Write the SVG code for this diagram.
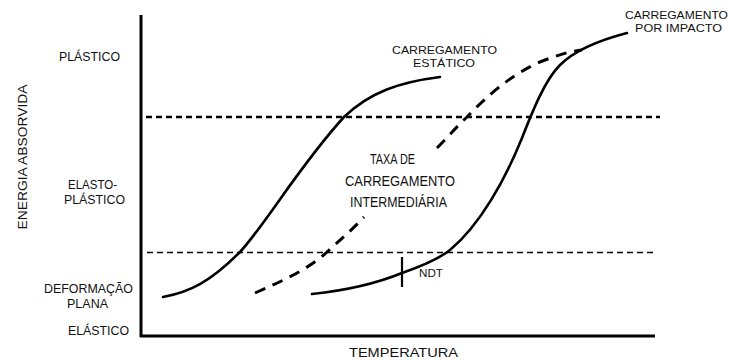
<svg xmlns="http://www.w3.org/2000/svg" width="730" height="362" viewBox="0 0 730 362">
<style>
text{font-family:"Liberation Sans",Arial,sans-serif;fill:#111;}
.lbl{font-size:13px;}
.sm{font-size:11px;}
.mid{font-size:14.5px;}
.axis{stroke:#000;stroke-width:3;fill:none;}
.solid{stroke:#000;stroke-width:2.6;fill:none;stroke-linecap:round;}
.dcurve{stroke:#000;stroke-width:3;fill:none;stroke-dasharray:11 8;}
.hi{stroke:#000;stroke-width:2.6;stroke-dasharray:6 4;}
.lo{stroke:#000;stroke-width:1.3;stroke-dasharray:6 4;}
</style>
<rect width="730" height="362" fill="#fff"/>
<g id="axes">
<line class="axis" x1="141" y1="15" x2="141" y2="337"/>
<line class="axis" x1="140" y1="336" x2="655" y2="336"/>
</g>
<g id="levels">
<line class="hi" x1="146" y1="117" x2="660" y2="117"/>
<line class="lo" x1="147" y1="252.5" x2="657" y2="252.5"/>
</g>
<g id="curves">
<path id="static" class="solid" d="M163,297 C190,292 210,282 240,252 C265,225 300,165 344,117 C370,92 400,82 440,77"/>
<path id="intermediate-low" class="dcurve" d="M255,293 C285,280 310,268 327,252 C340,240 352,230 364,217"/>
<path id="intermediate-high" class="dcurve" d="M437,148 C450,135 458,125 467,117 C485,98 510,75 540,62 C555,56 570,51 582,50"/>
<path id="impact" class="solid" d="M312,294 C350,290 380,282 402,273 C425,265 440,258 450,250 C480,225 505,180 522,138 C533,110 545,80 560,65 C575,50 600,40 627,33"/>
<line id="ndt-tick" x1="402" y1="257" x2="402" y2="287" stroke="#000" stroke-width="2.2"/>
</g>
<g id="y-labels">
<text class="lbl" x="59" y="61" textLength="61" lengthAdjust="spacingAndGlyphs">PLÁSTICO</text>
<text class="lbl" x="68" y="189" textLength="49" lengthAdjust="spacingAndGlyphs">ELASTO-</text>
<text class="lbl" x="64" y="204" textLength="61" lengthAdjust="spacingAndGlyphs">PLÁSTICO</text>
<text class="lbl" x="44" y="293" textLength="89" lengthAdjust="spacingAndGlyphs">DEFORMAÇÃO</text>
<text class="lbl" x="67" y="308" textLength="41" lengthAdjust="spacingAndGlyphs">PLANA</text>
<text class="lbl" x="68" y="335" textLength="61" lengthAdjust="spacingAndGlyphs">ELÁSTICO</text>
<text class="lbl" transform="translate(27,157) rotate(-90)" text-anchor="middle" textLength="145" lengthAdjust="spacingAndGlyphs">ENERGIA ABSORVIDA</text>
</g>
<g id="x-label">
<text class="lbl" x="349" y="357" textLength="109" lengthAdjust="spacingAndGlyphs">TEMPERATURA</text>
</g>
<g id="curve-labels">
<text class="sm" x="392" y="54" textLength="105" lengthAdjust="spacingAndGlyphs">CARREGAMENTO</text>
<text class="sm" x="413" y="67" textLength="62" lengthAdjust="spacingAndGlyphs">ESTÁTICO</text>
<text class="sm" x="625" y="18.5" textLength="103" lengthAdjust="spacingAndGlyphs">CARREGAMENTO</text>
<text class="sm" x="635" y="31.5" textLength="87" lengthAdjust="spacingAndGlyphs">POR IMPACTO</text>
<text class="mid" x="370" y="164" textLength="45" lengthAdjust="spacingAndGlyphs">TAXA DE</text>
<text class="mid" x="345" y="186" textLength="110" lengthAdjust="spacingAndGlyphs">CARREGAMENTO</text>
<text class="mid" x="350" y="207" textLength="97" lengthAdjust="spacingAndGlyphs">INTERMEDIÁRIA</text>
<text x="419" y="277" font-size="10.5" textLength="24" lengthAdjust="spacingAndGlyphs">NDT</text>
</g>
</svg>
